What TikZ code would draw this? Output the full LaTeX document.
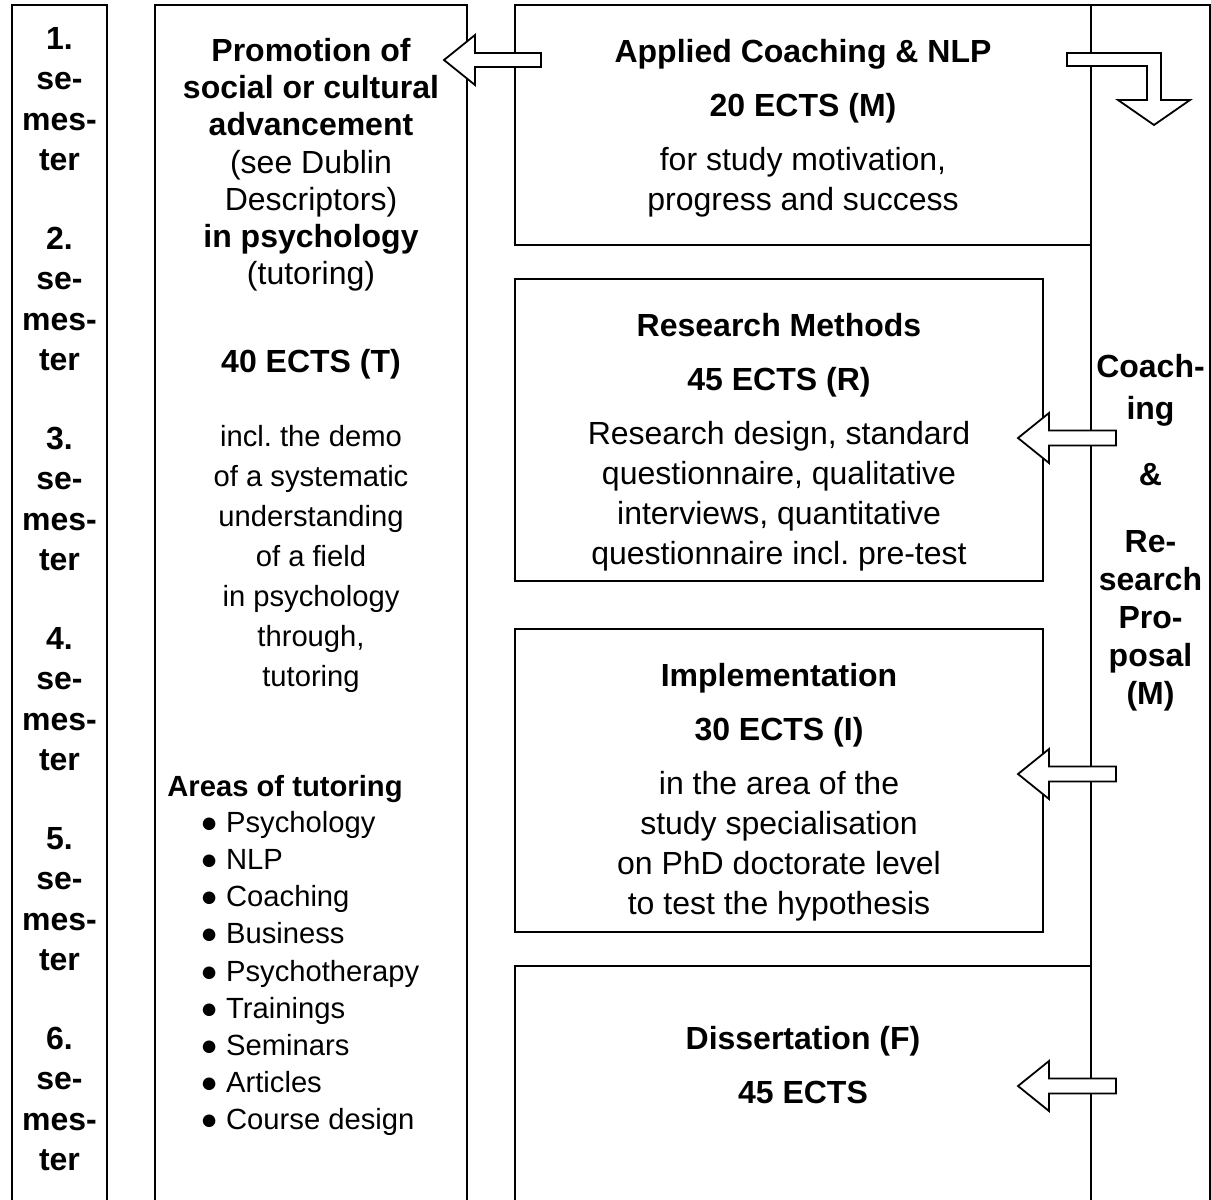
\documentclass[tikz,border=0pt]{standalone}
\usepackage{fontspec}
\setmainfont{Liberation Sans}
\frenchspacing
\usetikzlibrary{calc}

\newcommand\bodysize{\fontsize{16}{20}\selectfont}
\newcommand\tightsize{\fontsize{16}{18.6}\selectfont}
\newcommand\smallbody{\fontsize{14.6}{20}\selectfont}
\newcommand\listsize{\fontsize{14.6}{18.6}\selectfont}

\tikzset{
  box/.style={draw, line width=1.1pt, inner sep=0pt},
  txt/.style={align=center, inner sep=0pt, font=\bodysize,
    execute at begin node=\strut, execute at end node=\strut},
  btxt/.style={txt, font=\bodysize\bfseries},
  blockarrow/.style={draw, fill=white, line width=0.9pt, line join=miter},
}

\begin{document}
\begin{tikzpicture}[x=0.5pt, y=-0.5pt]
  \useasboundingbox (0, 0) rectangle (1211, 1200);
  \clip (0, 0) rectangle (1211, 1200);

  % columns and boxes
  \node[box, minimum width=47.5pt, minimum height=612.5pt] (semester) at (59.5, 617.5) {};
  \node[box, minimum width=156pt, minimum height=612.5pt] (promotion) at (311, 617.5) {};
  \node[box, minimum width=59.5pt, minimum height=612.5pt] (coaching) at (1150.5, 617.5) {};
  \node[box, minimum width=288pt, minimum height=120pt] (applied) at (803, 125) {};
  \node[box, minimum width=264pt, minimum height=151pt] (research) at (779, 430) {};
  \node[box, minimum width=264pt, minimum height=151.5pt] (implementation) at (779, 780.5) {};
  \node[box, minimum width=288pt, minimum height=132pt] (dissertation) at (803, 1098) {};

  % semesters
  \foreach \i in {1,...,6}
    \node[btxt, font=\fontsize{16}{20.3}\selectfont\bfseries] (sem\i) at (59.5, 105+200*\i-200)
      {\i.\\se-\\mes-\\ter};

  % left column
  \node[txt, font=\tightsize] (promotiontitle) at (311, 167)
    {\textbf{Promotion of}\\\textbf{social or cultural}\\\textbf{advancement}\\(see Dublin\\Descriptors)\\\textbf{in psychology}\\(tutoring)};
  \node[btxt] (promotionects) at (311, 364) {40 ECTS (T)};
  \node[txt, font=\smallbody] (promotiontext) at (311, 562)
    {incl. the demo\\of a systematic\\understanding\\of a field\\in psychology\\through,\\tutoring};
  \node[btxt, font=\listsize\bfseries, anchor=west] (areas) at (167, 789) {Areas of tutoring};
  \node[txt, font=\listsize, align=left, anchor=west] (arealist) at (200, 976)
    {● Psychology\\● NLP\\● Coaching\\● Business\\● Psychotherapy\\● Trainings\\● Seminars\\● Articles\\● Course design};

  % modules
  \node[txt] (appliedtext) at ($(applied)+(0, 6)$)
    {\textbf{Applied Coaching \& NLP}\\[7pt]\textbf{20 ECTS (M)}\\[7pt]for study motivation,\\progress and success};
  \node[txt] (researchtext) at ($(research)+(0, 14.5)$)
    {\textbf{Research Methods}\\[7pt]\textbf{45 ECTS (R)}\\[7pt]Research design, standard\\questionnaire, qualitative\\interviews, quantitative\\questionnaire incl. pre-test};
  \node[txt] (implementationtext) at ($(implementation)+(0, 14.5)$)
    {\textbf{Implementation}\\[7pt]\textbf{30 ECTS (I)}\\[7pt]in the area of the\\study specialisation\\on PhD doctorate level\\to test the hypothesis};
  \node[btxt] (dissertationtext) at ($(dissertation)+(0, -27)$)
    {Dissertation (F)\\[7pt]45 ECTS};

  % right column
  \node[btxt, font=\fontsize{16}{21}\selectfont\bfseries] (coach) at (1150.5, 393) {Coach-\\ing};
  \node[btxt] (and) at (1150.5, 477) {\&};
  \node[btxt, font=\fontsize{16}{19}\selectfont\bfseries] (proposal) at (1150.5, 623)
    {Re-\\search\\Pro-\\posal\\(M)};

  % arrows
  \draw[blockarrow] (444, 60) -- (475, 35) -- (475, 53) -- (541, 53)
    -- (541, 67) -- (475, 67) -- (475, 85) -- cycle;
  \draw[blockarrow] (1067, 53) -- (1161, 53) -- (1161, 100) -- (1190, 100)
    -- (1154, 125) -- (1118, 100) -- (1147, 100) -- (1147, 66) -- (1067, 66) -- cycle;
  \foreach \y in {438, 774, 1086}
    \draw[blockarrow] (1018, \y) -- (1049, \y-25) -- (1049, \y-7.5) -- (1116, \y-7.5)
      -- (1116, \y+7.5) -- (1049, \y+7.5) -- (1049, \y+25) -- cycle;
\end{tikzpicture}
\end{document}
